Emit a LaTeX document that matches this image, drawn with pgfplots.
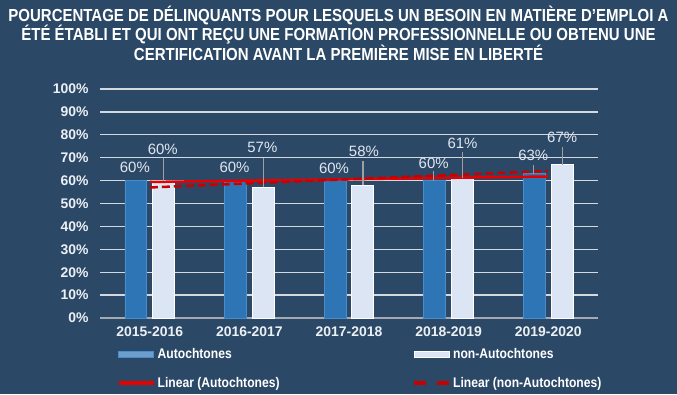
\documentclass[border=0pt]{standalone}
\usepackage{pgfplots}
\pgfplotsset{compat=1.18}
\usepackage{fontspec}
\setmainfont{Liberation Sans}
\newfontfamily\condfont[FakeStretch=0.86]{Liberation Sans}
\newfontfamily\legfont[FakeStretch=0.87]{Liberation Sans}
\definecolor{bg}{RGB}{43,73,103}
\definecolor{gridc}{RGB}{212,217,224}
\definecolor{axisc}{RGB}{165,170,176}
\definecolor{autoc}{RGB}{46,117,182}
\definecolor{autoe}{RGB}{72,140,204}
\definecolor{nonc}{RGB}{220,229,243}
\definecolor{labc}{RGB}{236,240,245}
\definecolor{datac}{RGB}{226,231,238}
\definecolor{leadc}{RGB}{160,160,160}
\definecolor{trendA}{RGB}{230,0,0}
\definecolor{trendN}{RGB}{200,0,0}
\begin{document}
\begin{tikzpicture}[x=1bp,y=1bp]
\path[use as bounding box] (0,0) rectangle (677,394);
\fill[bg] (0,0) rectangle (677,394);
\node[align=center, text=white, font=\condfont\bfseries\fontsize{17.5}{19}\selectfont] at (338.5,360.5)
{POURCENTAGE DE DÉLINQUANTS POUR LESQUELS UN BESOIN EN MATIÈRE D’EMPLOI A\\
ÉTÉ ÉTABLI ET QUI ONT REÇU UNE FORMATION PROFESSIONNELLE OU OBTENU UNE\\
CERTIFICATION AVANT LA PREMIÈRE MISE EN LIBERTÉ};
\begin{axis}[
  at={(100bp,76bp)}, anchor=south west,
  width=498bp, height=229bp, scale only axis,
  xmin=-0.5, xmax=4.5, ymin=0, ymax=100,
  axis line style={draw=none}, major tick style={draw=none},
  ytick={10,20,...,100},
  extra y ticks={0},
  extra y tick style={grid style={axisc, line width=2bp}},
  yticklabel={\pgfmathprintnumber{\tick}\%},
  xtick={0,1,2,3,4},
  xticklabels={2015-2016,2016-2017,2017-2018,2018-2019,2019-2020},
  ymajorgrids, grid style={gridc, line width=1.4bp},
  /pgf/number format/assume math mode=true,
  yticklabel style={text=labc, font=\bfseries\fontsize{14}{16}\selectfont, xshift=-8bp},
  xticklabel style={text=labc, font=\bfseries\fontsize{14}{16}\selectfont, yshift=-5bp},
  legend columns=2,
  legend cell align=left,
  legend style={at={(axis description cs:0.034,-0.125)}, anchor=north west,
    draw=none, fill=none, text=white, inner sep=0pt,
    font=\legfont\bfseries\fontsize{14}{16}\selectfont,
    row sep=13bp,
    /tikz/every even column/.append style={column sep=131bp}},
]
\addplot[ybar, bar width=0.22, bar shift=-0.14, fill=autoc, draw=autoe, line width=0.8bp,
  legend image code/.code={\fill[autoc!70!white, draw=autoe] (0bp,-3bp) rectangle (35bp,3bp);}]
  coordinates {(0,60) (1,60) (2,60) (3,60) (4,63)};
\addlegendentry{Autochtones}
\addplot[ybar, bar width=0.22, bar shift=0.14, fill=nonc, draw=white, line width=1bp,
  legend image code/.code={\fill[nonc, draw=white] (0bp,-3bp) rectangle (35bp,3bp);}]
  coordinates {(0,60) (1,57) (2,58) (3,61) (4,67)};
\addlegendentry{non-Autochtones}
\addplot[trendA, line width=2.5bp,
  legend image code/.code={\draw[trendA, line width=3.5bp] (0bp,0bp) -- (35bp,0bp);}]
  coordinates {(0,59.4) (4,61.8)};
\addlegendentry{Linear (Autochtones)}
\addplot[trendN, line width=2.5bp, dash pattern=on 8bp off 4bp,
  legend image code/.code={\draw[trendN, line width=3.5bp, dash pattern=on 12bp off 11bp] (0bp,0bp) -- (35bp,0bp);}]
  coordinates {(0,57) (4,64.2)};
\addlegendentry{Linear (non-Autochtones)}
% leader lines
\addplot[forget plot, leadc, line width=1.2bp] coordinates {(0.14,69.9) (0.14,60)};
\addplot[forget plot, leadc, line width=1.2bp] coordinates {(1.14,69.9) (1.14,57)};
\addplot[forget plot, leadc, line width=1.2bp] coordinates {(2.14,68.6) (2.14,58)};
\addplot[forget plot, leadc, line width=1.2bp] coordinates {(3.14,72.5) (3.14,61)};
\addplot[forget plot, leadc, line width=1.2bp] coordinates {(4.14,74.7) (4.14,67)};
\addplot[forget plot, leadc, line width=1.2bp] coordinates {(2.85,64.0) (2.85,60)};
\addplot[forget plot, leadc, line width=1.2bp] coordinates {(3.85,66.8) (3.85,63)};
% data labels
\addplot[forget plot, draw=none, mark=none, nodes near coords, point meta=explicit symbolic,
  nodes near coords style={anchor=center, text=datac, font=\fontsize{15}{17}\selectfont}]
  coordinates {(-0.15,65.9)[60\%] (0.85,65.9)[60\%] (1.85,65.5)[60\%] (2.85,67.7)[60\%] (3.85,71.2)[63\%]};
\addplot[forget plot, draw=none, mark=none, nodes near coords, point meta=explicit symbolic,
  nodes near coords style={anchor=center, text=datac, font=\fontsize{15}{17}\selectfont}]
  coordinates {(0.13,73.8)[60\%] (1.13,74.7)[57\%] (2.15,72.6)[58\%] (3.14,76.4)[61\%] (4.14,79.0)[67\%]};
\end{axis}
\end{tikzpicture}
\end{document}
